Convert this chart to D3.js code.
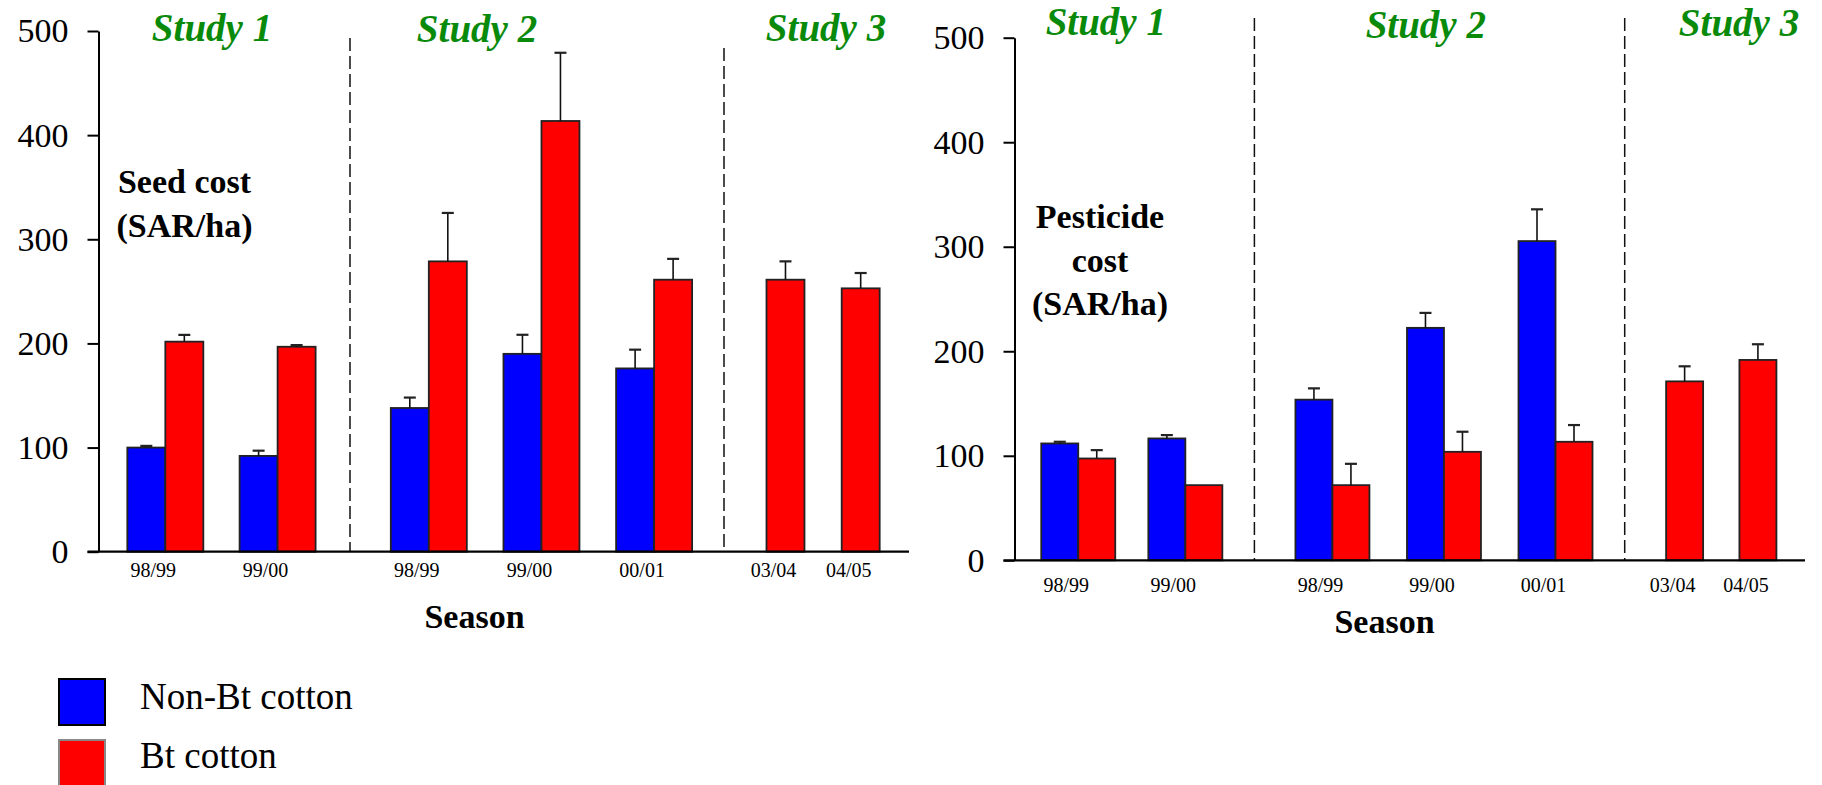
<!DOCTYPE html>
<html><head><meta charset="utf-8">
<script src="https://cdn.jsdelivr.net/npm/d3@7"></script>
<style>
html,body{margin:0;padding:0;background:#fff;}
svg{display:block;}
</style></head>
<body>
<svg id="chart" width="1822" height="785"></svg>
<script>
// ---- data ----
const seasons = ["98/99","99/00","98/99","99/00","00/01","03/04","04/05"];
const studyOf = ["Study 1","Study 1","Study 2","Study 2","Study 2","Study 3","Study 3"];
const studies = ["Study 1","Study 2","Study 3"];
const yTicks = [0,100,200,300,400,500];

const seedNonBt    = [100, 92, 138, 190, 176, null, null];
const seedNonBtErr = [1.6, 5, 10, 18.3, 18, null, null];
const seedBt       = [201.7, 196.8, 278.8, 413.6, 261.2, 261.2, 252.9];
const seedBtErr    = [6.5, 1.6, 46.5, 65.5, 20, 17.6, 14.7];

const pestNonBt    = [111.8, 116.6, 153.7, 222.4, 305.4, null, null];
const pestNonBtErr = [1.6, 3.2, 10.8, 14.3, 30.4, null, null];
const pestBt       = [97.4, 71.9, 71.9, 103.8, 113.4, 171.2, 191.7];
const pestBtErr    = [8, 0, 20.4, 19.2, 16, 14.4, 15];

const seriesNames = ["Non-Bt cotton","Bt cotton"];
const colors = ["#0000ff","#ff0000"];
const green = "#0a8a0a";
const FONT = "'Liberation Serif','Times New Roman',serif";

// ---- layout ----
const panels = [
  {x0:98.5, x1:909, dash:[350,724], dashTop:[38,48], yBase:551.7, yTop:31, barW:38, lblOff:25.5,
   nonBt:seedNonBt, nonBtErr:seedNonBtErr, bt:seedBt, btErr:seedBtErr,
   head:[[212,40.5],[477,41.5],[826,40.5]], title:[474.5,628],
   ylab:{x:184.5, lines:["Seed cost","(SAR/ha)"], y0:193, dy:44}},
  {x0:1014.5, x1:1805, dash:[1254.4,1624.7], dashTop:[18,18], yBase:560.3, yTop:37.7, barW:37, lblOff:31.5,
   nonBt:pestNonBt, nonBtErr:pestNonBtErr, bt:pestBt, btErr:pestBtErr,
   head:[[1105.8,34.5],[1425.8,38],[1739,36]], title:[1384.5,633],
   ylab:{x:1100, lines:["Pesticide","cost","(SAR/ha)"], y0:228, dy:43.5}}
];
const studyPad = [0.62,0.66,0.73];
const studyAlign = [0.48,0.53,0.56];

const svg = d3.select("#chart").style("font-family", FONT);

panels.forEach(P => {
  const g = svg.append("g");
  const y = d3.scaleLinear().domain([0,500]).range([P.yBase, P.yTop]);
  const bounds = [P.x0, P.dash[0], P.dash[1], P.x1];
  const idx = d3.range(seasons.length);
  const cx = new Array(seasons.length);
  studies.forEach((s,si) => {
    const members = idx.filter(i => studyOf[i] === s);
    const sc = d3.scalePoint().domain(members).range([bounds[si], bounds[si+1]])
      .padding(studyPad[si]).align(studyAlign[si]);
    members.forEach(i => cx[i] = sc(i));
  });
  const w = P.barW;

  // dashed separators
  g.selectAll("line.sep").data(P.dash).join("line").attr("class","sep")
    .attr("x1",d=>d).attr("x2",d=>d)
    .attr("y1",(d,i)=>P.dashTop[i]).attr("y2",P.yBase)
    .attr("stroke","#111").attr("stroke-width",1.5).attr("stroke-dasharray","13,5");

  // bars
  const bars = [];
  idx.forEach(i => {
    const hasNon = P.nonBt[i] != null;
    if (hasNon) bars.push({x: cx[i]-w, v:P.nonBt[i], e:P.nonBtErr[i], s:0});
    bars.push({x: hasNon ? cx[i] : cx[i]-w/2, v:P.bt[i], e:P.btErr[i], s:1});
  });
  g.selectAll("rect.bar").data(bars).join("rect").attr("class","bar")
    .attr("x",d=>d.x).attr("width",w)
    .attr("y",d=>y(d.v)).attr("height",d=>y(0)-y(d.v))
    .attr("fill",d=>colors[d.s]).attr("stroke","#222").attr("stroke-width",1.8);

  // error bars
  const eb = bars.filter(d=>d.e>0);
  g.selectAll("line.ev").data(eb).join("line").attr("class","ev")
    .attr("x1",d=>d.x+w/2).attr("x2",d=>d.x+w/2)
    .attr("y1",d=>y(d.v)).attr("y2",d=>y(d.v+d.e))
    .attr("stroke","#111").attr("stroke-width",1.6);
  g.selectAll("line.ec").data(eb).join("line").attr("class","ec")
    .attr("x1",d=>d.x+w/2-6).attr("x2",d=>d.x+w/2+6)
    .attr("y1",d=>y(d.v+d.e)).attr("y2",d=>y(d.v+d.e))
    .attr("stroke","#222").attr("stroke-width",2.2);

  // y axis
  const ya = g.append("g").attr("transform",`translate(${P.x0},0)`)
    .call(d3.axisLeft(y).tickValues(yTicks).tickSize(11).tickPadding(19).tickSizeOuter(0));
  ya.attr("font-family", null);
  ya.select(".domain").attr("stroke","#000").attr("stroke-width",2);
  ya.selectAll(".tick line").attr("stroke","#000").attr("stroke-width",2);
  ya.selectAll(".tick text").attr("font-size",34).attr("fill","#000")
    .style("font-family", FONT);

  // x axis line
  g.append("line").attr("x1",P.x0-11).attr("x2",P.x1).attr("y1",y(0)).attr("y2",y(0))
    .attr("stroke","#000").attr("stroke-width",2.2);

  // season labels
  g.selectAll("text.season").data(idx).join("text").attr("class","season")
    .attr("x",i=>cx[i]-12).attr("y",y(0)+P.lblOff)
    .attr("text-anchor","middle").attr("font-size",20).style("font-family",FONT)
    .text(i=>seasons[i]);

  // study headers
  g.selectAll("text.head").data(studies).join("text").attr("class","head")
    .attr("x",(d,i)=>P.head[i][0]).attr("y",(d,i)=>P.head[i][1])
    .attr("text-anchor","middle").attr("font-size",39).attr("font-weight","bold")
    .attr("font-style","italic").attr("fill",green).style("font-family",FONT).text(d=>d);

  // axis title
  g.append("text").attr("x",P.title[0]).attr("y",P.title[1]).attr("text-anchor","middle")
    .attr("font-size",34).attr("font-weight","bold").style("font-family",FONT).text("Season");

  // y label inside plot
  g.selectAll("text.ylab").data(P.ylab.lines).join("text").attr("class","ylab")
    .attr("x",P.ylab.x).attr("y",(d,i)=>P.ylab.y0+i*P.ylab.dy).attr("text-anchor","middle")
    .attr("font-size",34).attr("font-weight","bold").style("font-family",FONT).text(d=>d);
});

// legend
const lg = svg.append("g");
lg.selectAll("rect").data(seriesNames).join("rect")
  .attr("x",59).attr("y",(d,i)=>679+i*61).attr("width",46).attr("height",46)
  .attr("fill",(d,i)=>colors[i]).attr("stroke",(d,i)=>i===0?"#000":"#888").attr("stroke-width",2);
lg.selectAll("text").data(seriesNames).join("text")
  .attr("x",140).attr("y",(d,i)=>709.3+i*59).attr("font-size",37).style("font-family",FONT).text(d=>d);
</script>
</body></html>
